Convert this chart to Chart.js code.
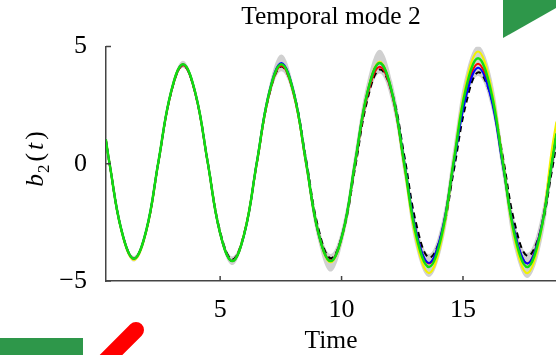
<!DOCTYPE html>
<html>
<head>
<meta charset="utf-8">
<script src="https://cdn.jsdelivr.net/npm/chart.js@4.4.1/dist/chart.umd.min.js"></script>
<style>
  html, body { margin: 0; padding: 0; background: #fff; }
  #wrap { position: relative; width: 556px; height: 355px; }
  #deco { position: absolute; left: 0; top: 0; pointer-events: none; }
</style>
</head>
<body>
<div id="wrap">
  <canvas id="mode2"></canvas>
  <svg id="deco" width="556" height="355">
    <polygon points="503,0 556,0 556,8 503,38" fill="#2e974a"/>
    <rect x="0" y="338" width="83" height="17" fill="#2e974a"/>
    <line x1="136" y1="330" x2="98" y2="368" stroke="#ff0000" stroke-width="16" stroke-linecap="round"/>
  </svg>
</div>
<script>
// time samples (shared by every curve)
const TIME = [0.29, 0.44, 0.94, 1.45, 1.96, 2.46, 2.97, 3.47, 3.98, 4.49, 4.99, 5.50, 6.01, 6.51, 7.02, 7.52,
  8.03, 8.54, 9.04, 9.55, 10.06, 10.56, 11.07, 11.57, 12.08, 12.59, 13.09, 13.60, 14.11, 14.61, 15.12, 15.62,
  16.13, 16.64, 17.14, 17.65, 18.16, 18.66, 18.85];

const GREEN = [1.05, 0.05, -2.85, -4.05, -2.83, 0.10, 3.03, 4.25, 3.02, 0.05, -2.92, -4.15, -2.92, 0.05, 3.02, 4.25,
  3.02, 0.05, -2.92, -4.15, -2.91, 0.08, 3.06, 4.30, 3.03, -0.05, -3.13, -4.40, -3.10, 0.05, 3.20, 4.50,
  3.20, 0.05, -3.10, -4.40, -3.08, 0.05, 1.30];
const BLUE = [1.05, 0.05, -2.85, -4.05, -2.83, 0.10, 3.03, 4.25, 3.02, 0.05, -2.92, -4.15, -2.94, 0.07, 3.06, 4.30,
  3.06, 0.07, -2.94, -4.15, -2.91, 0.08, 3.06, 4.30, 3.02, 0.03, -2.97, -4.23, -2.95, -0.06, 2.84, 4.10,
  2.91, -0.07, -2.95, -4.25, -2.98, 0.00, 1.25];
const RED = [1.05, 0.05, -2.85, -4.05, -2.85, 0.08, 2.99, 4.20, 2.98, 0.03, -2.93, -4.15, -2.91, 0.02, 2.97, 4.18,
  2.97, 0.02, -2.91, -4.12, -2.90, 0.02, 2.94, 4.14, 2.95, -0.07, -3.05, -4.25, -3.01, 0.01, 3.02, 4.27,
  3.02, 0.01, -3.01, -4.25, -2.98, 0.00, 1.25];
const YELLOW = [1.05, 0.05, -2.88, -4.10, -2.88, 0.08, 3.03, 4.25, 3.02, 0.05, -2.92, -4.15, -2.92, 0.05, 3.02, 4.25,
  3.01, 0.03, -2.96, -4.20, -2.95, 0.08, 3.10, 4.35, 3.03, -0.16, -3.34, -4.66, -3.28, 0.07, 3.41, 4.79,
  3.41, 0.07, -3.28, -4.66, -3.20, 0.60, 1.80];
const TRUTH = [1.05, 0.05, -2.85, -4.05, -2.84, 0.08, 2.99, 4.20, 2.99, 0.08, -2.84, -4.08, -2.88, 0.03, 2.95, 4.15,
  3.03, 0.18, -2.74, -4.03, -2.93, -0.15, 2.76, 4.02, 3.03, 0.30, -2.63, -4.00, -3.04, -0.35, 2.54, 3.90,
  2.95, 0.29, -2.58, -3.93, -2.98, -0.30, 0.90];
// grey spread band
const BAND_HI = [1.17, 0.17, -2.73, -3.93, -2.71, 0.22, 3.15, 4.40, 3.14, 0.23, -2.74, -3.95, -2.74, 0.35, 3.32, 4.66,
  3.32, 0.43, -2.54, -3.85, -2.53, 0.58, 3.56, 4.87, 3.53, 0.50, -2.58, -3.85, -2.55, 0.70, 3.85, 5.04,
  3.85, 0.65, -2.50, -3.80, -2.48, 0.65, 1.90];
const BAND_LO = [0.93, -0.07, -2.97, -4.17, -2.95, -0.02, 2.91, 4.10, 2.90, -0.13, -3.10, -4.32, -3.10, -0.25, 2.72, 3.95,
  2.72, -0.33, -3.30, -4.60, -3.29, -0.42, 2.56, 3.85, 2.53, -0.60, -3.68, -4.83, -3.65, -0.60, 2.55, 3.75,
  2.55, -0.55, -3.70, -4.87, -3.68, -0.55, 0.70];

const X_TICKS = [5, 10, 15];
const X_TICK_LABELS = ['5', '10', '15'];
const Y_TICKS = [-5, 0, 5];
const Y_TICK_LABELS = ['\u22125', '0', '5'];

const SERIF = '"Liberation Serif", "Times New Roman", serif';

const pts = ys => TIME.map((t, i) => ({ x: t, y: ys[i] }));
const curve = (label, ys, color, width, dash) => ({
  label: label,
  data: pts(ys),
  borderColor: color,
  borderWidth: width,
  borderDash: dash || [],
  pointRadius: 0,
  tension: 0.4,
  fill: false
});

// matlab style ticks pointing into the plot
const inwardTicks = {
  id: 'inwardTicks',
  afterDraw(chart) {
    const { ctx, chartArea: a, scales: { x, y } } = chart;
    ctx.save();
    ctx.strokeStyle = '#444';
    ctx.lineWidth = 1.5;
    ctx.beginPath();
    X_TICKS.forEach(v => {
      const px = x.getPixelForValue(v);
      ctx.moveTo(px, a.bottom);
      ctx.lineTo(px, a.bottom - 5);
    });
    Y_TICKS.forEach(v => {
      const py = y.getPixelForValue(v);
      ctx.moveTo(a.left, py);
      ctx.lineTo(a.left + 5, py);
    });
    ctx.stroke();
    ctx.restore();
  }
};

// b_2(t) with italic letters and a subscript
const yLabel = {
  id: 'yLabel',
  afterDraw(chart) {
    const ctx = chart.ctx;
    const parts = [
      { t: 'b', f: 'italic 25.5px ' + SERIF, dy: 0, gap: 1 },
      { t: '2', f: '17px ' + SERIF, dy: 6, gap: 3 },
      { t: '(', f: '25.5px ' + SERIF, dy: 0, gap: 3 },
      { t: 't', f: 'italic 25.5px ' + SERIF, dy: 0, gap: 3 },
      { t: ')', f: '25.5px ' + SERIF, dy: 0, gap: 0 }
    ];
    ctx.save();
    let total = 0;
    parts.forEach(p => { ctx.font = p.f; p.w = ctx.measureText(p.t).width; total += p.w + p.gap; });
    ctx.translate(43, 159);
    ctx.rotate(-Math.PI / 2);
    ctx.fillStyle = '#000';
    ctx.textBaseline = 'alphabetic';
    let cx = -total / 2;
    parts.forEach(p => {
      ctx.font = p.f;
      ctx.fillText(p.t, cx, p.dy);
      cx += p.w + p.gap;
    });
    ctx.restore();
  }
};

new Chart(document.getElementById('mode2'), {
  type: 'line',
  data: {
    datasets: [
      curve('run 4', GREEN, '#11dd11', 2.5),
      curve('run 3', BLUE, '#0000ff', 2),
      curve('run 2', RED, '#ff0000', 2),
      curve('run 1', YELLOW, '#f2f200', 2.2),
      curve('reference', TRUTH, '#000000', 2, [6, 4]),
      { label: 'spread hi', data: pts(BAND_HI), borderWidth: 0, pointRadius: 0, tension: 0.4,
        fill: '+1', backgroundColor: '#d0d0d0' },
      { label: 'spread lo', data: pts(BAND_LO), borderWidth: 0, pointRadius: 0, tension: 0.4, fill: false }
    ]
  },
  options: {
    responsive: true,
    maintainAspectRatio: false,
    animation: false,
    layout: { padding: 0 },
    plugins: {
      legend: { display: false },
      tooltip: { enabled: false },
      title: {
        display: true,
        text: 'Temporal mode 2',
        fullSize: false,
        color: '#000',
        font: { family: SERIF, size: 25.5, weight: 'normal' },
        padding: { top: 2, bottom: 14 }
      }
    },
    scales: {
      x: {
        type: 'linear',
        min: 0.3,
        max: 18.83,
        grid: { display: false },
        border: { color: '#444', width: 1.5 },
        afterBuildTicks: s => { s.ticks = X_TICKS.map(v => ({ value: v })); },
        afterFit: s => { s.height = 74; },
        ticks: {
          padding: 6,
          color: '#000',
          font: { family: SERIF, size: 26 },
          maxRotation: 0,
          callback: v => X_TICK_LABELS[X_TICKS.indexOf(v)]
        },
        title: {
          display: true,
          text: 'Time',
          color: '#000',
          font: { family: SERIF, size: 25.5, lineHeight: 1 },
          padding: { top: 0, bottom: 1 }
        }
      },
      y: {
        min: -5,
        max: 5,
        grid: { display: false },
        border: { color: '#444', width: 1.5 },
        afterBuildTicks: s => { s.ticks = Y_TICKS.map(v => ({ value: v })); },
        afterFit: s => { s.width = 106; },
        ticks: {
          padding: 11,
          color: '#000',
          font: { family: SERIF, size: 26 },
          callback: v => Y_TICK_LABELS[Y_TICKS.indexOf(v)]
        }
      }
    }
  },
  plugins: [inwardTicks, yLabel]
});
</script>
</body>
</html>
